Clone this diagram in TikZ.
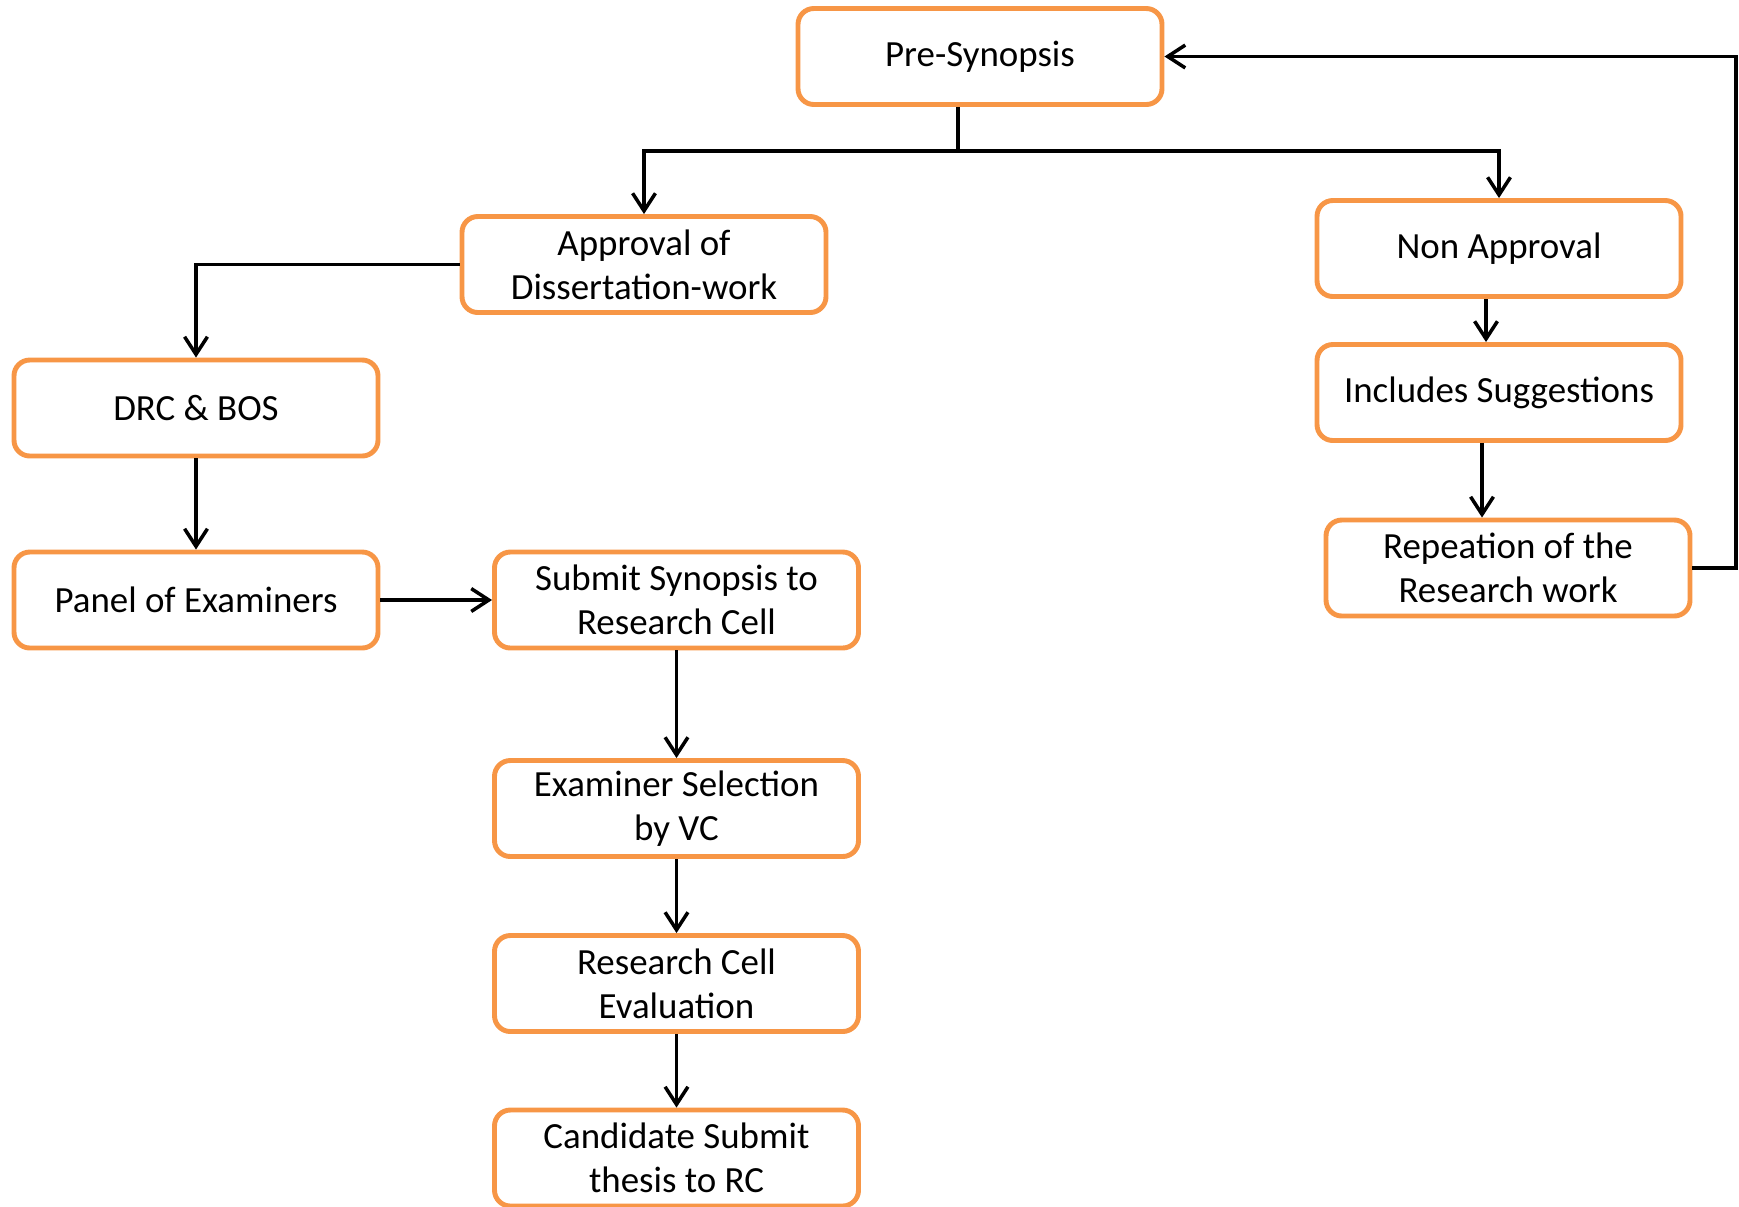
\documentclass[tikz,border=0pt]{standalone}
\usepackage{fontspec}
\setmainfont{Carlito}
\usepackage{tikz}
\usetikzlibrary{arrows.meta}
\usetikzlibrary{calc}
\definecolor{boxorange}{HTML}{F79646}
\tikzset{stepbox/.style={draw=boxorange, line width=1.4pt, rounded corners=4.5pt, fill=white,
	minimum width=3.64cm, minimum height=0.96cm, align=center, inner sep=1pt,
	font=\fontsize{10.5pt}{12.6pt}\selectfont}}
\tikzset{flow/.style={line width=1pt, -{Straight Barb[length=5pt,width=6.5pt,line width=1pt]}}}
\tikzset{plain/.style={line width=1pt}}

\begin{document}
\begin{tikzpicture}
	\useasboundingbox (0,0) rectangle (17.39,-12.06);

	% TOP
	\node[stepbox] (pre) at (9.80,-0.565) {Pre-Synopsis};
	\coordinate (split) at (9.58,-1.51);

	% LEFT BRANCH
	\node[stepbox] (appr) at (6.44,-2.645) {Approval of\\Dissertation-work};
	\node[stepbox] (drc) at (1.96,-4.08) {DRC \& BOS};
	\node[stepbox] (panel) at (1.96,-6.00) {Panel of Examiners};
	\node[stepbox] (submit) at (6.765,-6.00) {Submit Synopsis to\\Research Cell};
	\node[stepbox] (exam) at (6.765,-8.085) {Examiner Selection\\by VC};
	\node[stepbox] (eval) at (6.765,-9.835) {Research Cell\\Evaluation};
	\node[stepbox] (cand) at (6.765,-11.58) {Candidate Submit\\thesis to RC};

	% RIGHT BRANCH
	\node[stepbox] (nonappr) at (14.99,-2.485) {Non Approval};
	\node[stepbox] (sugg) at (14.99,-3.925) {Includes Suggestions};
	\node[stepbox] (repeat) at (15.08,-5.68) {Repeation of the\\Research work};
	\coordinate (back) at (17.36,-0.565);

	% Trunk
	\draw[plain] (pre.south -| split) -- (split);
	\draw[flow] (split) -| (appr.north);
	\draw[flow] (split) -| (nonappr.north);

	% Left
	\draw[flow] (appr.west) -| (drc.north);
	\draw[flow] (drc.south) -- (panel.north);
	\draw[flow] (panel.east) -- (submit.west);
	\draw[flow] (submit.south) -- (exam.north);
	\draw[flow] (exam.south) -- (eval.north);
	\draw[flow] (eval.south) -- (cand.north);

	% Right
	\draw[flow] ([xshift=-0.13cm]nonappr.south) -- ([xshift=-0.13cm]sugg.north);
	\draw[flow] ([xshift=-0.17cm]sugg.south) -- ([xshift=-0.17cm]sugg.south |- repeat.north);
	\draw[flow] (repeat.east) -| (back) -- (pre.east);
\end{tikzpicture}
\end{document}
